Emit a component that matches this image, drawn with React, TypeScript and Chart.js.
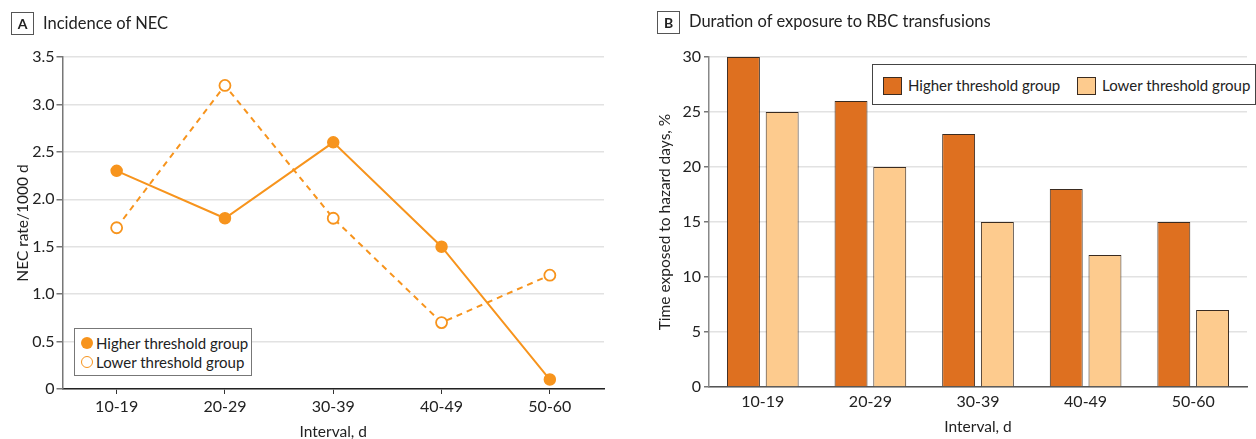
import React, { useEffect, useRef } from "react";
import { Chart, registerables } from "chart.js";

Chart.register(...registerables);

const intervals = ["10-19", "20-29", "30-39", "40-49", "50-60"];
const necHigher = [2.3, 1.8, 2.6, 1.5, 0.1];
const necLower = [1.7, 3.2, 1.8, 0.7, 1.2];
const exposureHigher = [30, 26, 23, 18, 15];
const exposureLower = [25, 20, 15, 12, 7];
const higherLabel = "Higher threshold group";
const lowerLabel = "Lower threshold group";

const FONT = "Lato, 'DejaVu Sans', sans-serif";
const LINE_ORANGE = "#F7941D";
const BAR_DARK = "#DE7020";
const BAR_LIGHT = "#FDCB8E";
const BAR_BORDER = "#3a2b20";
const TEXT = "#222";
const GRID = "#e2e2e2";
const TICK_SIZE = 16;
const TITLE_SIZE = 15.5;

function LineChart() {
  const ref = useRef<HTMLCanvasElement>(null);
  useEffect(() => {
    const chart = new Chart(ref.current!, {
      type: "line",
      data: {
        labels: intervals,
        datasets: [
          {
            label: higherLabel,
            data: necHigher,
            borderColor: LINE_ORANGE,
            backgroundColor: LINE_ORANGE,
            pointBackgroundColor: LINE_ORANGE,
            pointBorderColor: LINE_ORANGE,
            borderWidth: 2,
            pointRadius: 5.5,
            pointBorderWidth: 1.5,
          },
          {
            label: lowerLabel,
            data: necLower,
            borderColor: LINE_ORANGE,
            backgroundColor: "#fff",
            pointBackgroundColor: "#fff",
            pointBorderColor: LINE_ORANGE,
            borderWidth: 2,
            borderDash: [6, 5],
            pointRadius: 5.5,
            pointBorderWidth: 1.8,
          },
        ],
      },
      options: {
        animation: false,
        responsive: false,
        layout: { padding: { top: 57, right: 21, bottom: 0, left: 0 } },
        plugins: { legend: { display: false }, tooltip: { enabled: false } },
        scales: {
          x: {
            offset: true,
            grid: { display: true, drawOnChartArea: false, drawTicks: true, tickLength: 5, tickColor: "#333", offset: false },
            border: { display: true, color: "#222", width: 1.5 },
            ticks: { color: TEXT, font: { family: FONT, size: TICK_SIZE }, padding: 3, maxRotation: 0 },
            title: { display: true, text: "Interval, d", color: TEXT, font: { family: FONT, size: TITLE_SIZE }, padding: { top: 0, bottom: 9 } },
            afterFit: (s: any) => { s.height = 61; },
          },
          y: {
            min: 0,
            max: 3.5,
            ticks: {
              stepSize: 0.5,
              color: TEXT,
              font: { family: FONT, size: TICK_SIZE },
              padding: 2,
              callback: (v: any) => (Number(v) === 0 ? "0" : Number(v).toFixed(1)),
            },
            grid: { color: GRID, lineWidth: 1.5, tickLength: 6, tickColor: "#777" },
            border: { display: true, color: "#777", width: 1.5 },
            title: { display: true, text: "NEC rate/1000 d", color: TEXT, font: { family: FONT, size: TITLE_SIZE }, padding: { top: 13.5, bottom: 0 } },
            afterFit: (s: any) => { s.width = 62.5; },
          },
        },
      },
    });
    return () => chart.destroy();
  }, []);
  return <canvas ref={ref} width={625} height={450} style={{ position: "absolute", left: 0, top: 0, width: 625, height: 450 }} />;
}

function BarChart() {
  const ref = useRef<HTMLCanvasElement>(null);
  useEffect(() => {
    const chart = new Chart(ref.current!, {
      type: "bar",
      data: {
        labels: intervals,
        datasets: [
          {
            label: higherLabel,
            data: exposureHigher,
            backgroundColor: BAR_DARK,
            borderColor: BAR_BORDER,
            borderWidth: 1,
            categoryPercentage: 0.72,
            barPercentage: 0.85,
          },
          {
            label: lowerLabel,
            data: exposureLower,
            backgroundColor: BAR_LIGHT,
            borderColor: BAR_BORDER,
            borderWidth: 1,
            categoryPercentage: 0.72,
            barPercentage: 0.85,
          },
        ],
      },
      options: {
        animation: false,
        responsive: false,
        layout: { padding: { top: 57, right: 9, bottom: 0, left: 0 } },
        plugins: { legend: { display: false }, tooltip: { enabled: false } },
        scales: {
          x: {
            grid: { display: true, drawOnChartArea: false, drawTicks: false },
            border: { display: true, color: "#555", width: 1.5 },
            ticks: { color: TEXT, font: { family: FONT, size: TICK_SIZE }, padding: 5, maxRotation: 0 },
            title: { display: true, text: "Interval, d", color: TEXT, font: { family: FONT, size: TITLE_SIZE }, padding: { top: 0, bottom: 14 } },
            afterFit: (s: any) => { s.height = 63; },
          },
          y: {
            min: 0,
            max: 30,
            ticks: { stepSize: 5, color: TEXT, font: { family: FONT, size: TICK_SIZE }, padding: 3 },
            grid: { color: GRID, lineWidth: 1.5, tickLength: 5, tickColor: "#777" },
            border: { display: true, color: "#888", width: 1.5 },
            title: { display: true, text: "Time exposed to hazard days, %", color: TEXT, font: { family: FONT, size: TITLE_SIZE }, padding: { top: 26, bottom: 0 } },
            afterFit: (s: any) => { s.width = 79; },
          },
        },
      },
    });
    return () => chart.destroy();
  }, []);
  return <canvas ref={ref} width={626} height={450} style={{ position: "absolute", left: 630, top: 0, width: 626, height: 450 }} />;
}

const panelBox: React.CSSProperties = {
  position: "absolute",
  width: 23,
  height: 23,
  border: "1px solid #555",
  boxSizing: "border-box",
  fontFamily: FONT,
  fontWeight: 700,
  fontSize: 14,
  color: TEXT,
  display: "flex",
  alignItems: "center",
  justifyContent: "center",
};

const panelTitle: React.CSSProperties = {
  position: "absolute",
  fontFamily: FONT,
  fontSize: 16.5,
  color: TEXT,
  lineHeight: "20px",
  whiteSpace: "nowrap",
};

const legendText: React.CSSProperties = {
  fontFamily: FONT,
  fontSize: 15,
  color: TEXT,
  whiteSpace: "nowrap",
};

export default function App() {
  return (
    <div style={{ position: "absolute", left: 0, top: 0, width: 1256, height: 439, overflow: "hidden", background: "#fff" }}>
      <LineChart />
      <BarChart />
      <div style={{ ...panelBox, left: 11, top: 12 }}>A</div>
      <div style={{ ...panelTitle, left: 43, top: 13 }}>Incidence of NEC</div>
      <div style={{ ...panelBox, left: 657, top: 11 }}>B</div>
      <div style={{ ...panelTitle, left: 689, top: 11 }}>Duration of exposure to RBC transfusions</div>

      <div style={{ position: "absolute", left: 74, top: 328, width: 178, height: 48, border: "1px solid #777", boxSizing: "border-box", background: "#fff" }}>
        <div style={{ position: "absolute", left: 6, top: 8, width: 12, height: 12, borderRadius: "50%", background: LINE_ORANGE }} />
        <div style={{ ...legendText, position: "absolute", left: 21, top: 5, lineHeight: "18px" }}>{higherLabel}</div>
        <div style={{ position: "absolute", left: 6, top: 27, width: 12, height: 12, borderRadius: "50%", border: `1.8px solid ${LINE_ORANGE}`, boxSizing: "border-box", background: "#fff" }} />
        <div style={{ ...legendText, position: "absolute", left: 21, top: 24, lineHeight: "18px" }}>{lowerLabel}</div>
      </div>

      <div style={{ position: "absolute", left: 872, top: 64, width: 384, height: 41, border: "1px solid #444", boxSizing: "border-box", background: "#fff" }}>
        <div style={{ position: "absolute", left: 10, top: 12, width: 19, height: 18, background: BAR_DARK, border: `1px solid ${BAR_BORDER}`, boxSizing: "border-box" }} />
        <div style={{ ...legendText, position: "absolute", left: 35, top: 11, lineHeight: "18px" }}>{higherLabel}</div>
        <div style={{ position: "absolute", left: 204, top: 12, width: 19, height: 18, background: BAR_LIGHT, border: `1px solid ${BAR_BORDER}`, boxSizing: "border-box" }} />
        <div style={{ ...legendText, position: "absolute", left: 229, top: 11, lineHeight: "18px" }}>{lowerLabel}</div>
      </div>
    </div>
  );
}
